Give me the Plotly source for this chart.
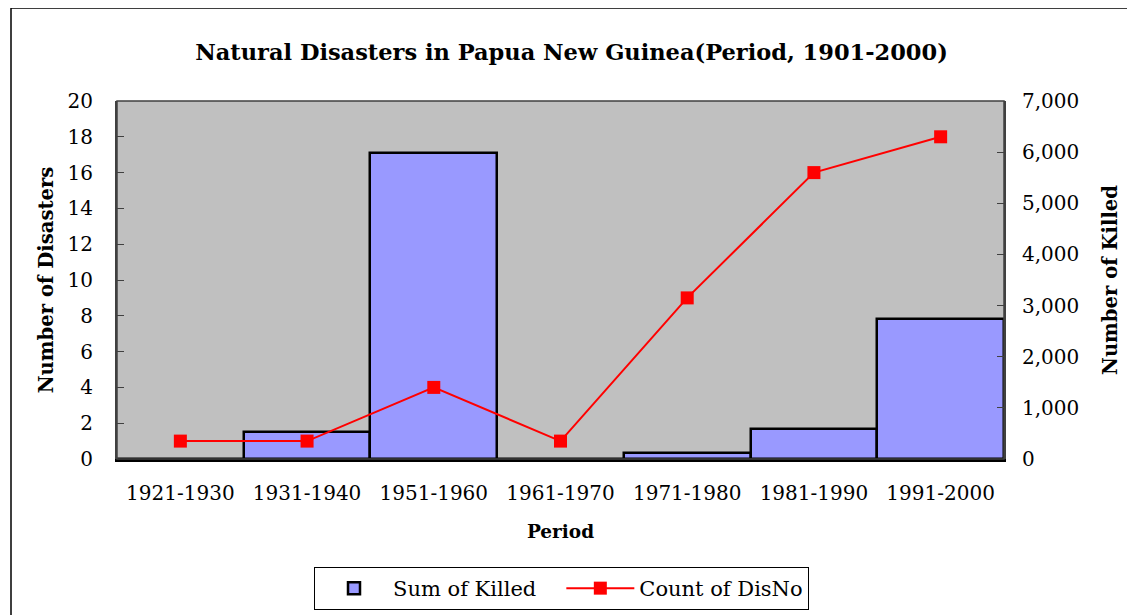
import plotly.graph_objects as go

periods = ["1921-1930", "1931-1940", "1951-1960", "1961-1970", "1971-1980", "1981-1990", "1991-2000"]
sum_killed = [0, 525, 5985, 0, 120, 590, 2730]
count_disno = [1, 1, 4, 1, 9, 16, 18]
killed_ticks = [0, 1000, 2000, 3000, 4000, 5000, 6000, 7000]
count_ticks = [0, 2, 4, 6, 8, 10, 12, 14, 16, 18, 20]

FONT = "DejaVu Serif"
OFF = 8  # page body margin
L, R, T, B = 117 - OFF, 1004 - OFF, 101 - OFF, 459 - OFF
W, H = 1135 - OFF, 615 - OFF

fig = go.Figure()
fig.add_trace(go.Bar(
    x=periods, y=sum_killed, name="Sum of Killed" + "\u00a0" * 3, yaxis="y",
    width=1, marker=dict(color="#9999FF", line=dict(color="black", width=2.5)),
))
fig.add_trace(go.Scatter(
    x=periods, y=count_disno, name="Count of DisNo", yaxis="y2",
    mode="lines+markers", line=dict(color="#FF0000", width=2),
    marker=dict(symbol="square", size=13, color="#FF0000"),
))

pw = R - L
ph = B - T
fig.update_layout(
    width=W, height=H,
    margin=dict(l=L, r=W - R, t=T, b=H - B),
    paper_bgcolor="white", plot_bgcolor="#C0C0C0",
    font=dict(family=FONT, size=20, color="black"),
    title=dict(text="<b>Natural Disasters in Papua New Guinea(Period, 1901-2000)</b>",
               x=0.5, xanchor="center", y=1 - (52 - OFF) / H, yanchor="middle",
               font=dict(family=FONT, size=22.5, color="black")),
    bargap=0,
    showlegend=True,
    legend=dict(orientation="h", x=(314 - OFF - L) / pw, xref="paper",
                y=1 - (567 - OFF) / H, yref="container",
                xanchor="left", yanchor="top", bordercolor="black", borderwidth=1,
                bgcolor="white", font=dict(family=FONT, size=21),
                itemwidth=68),
    xaxis=dict(type="category", showline=True, linecolor="black", linewidth=3,
               ticks="", showgrid=False, zeroline=False,
               ticklabelstandoff=14,
               title=dict(text="<b>Period</b>", font=dict(family=FONT, size=18.5), standoff=22),
               tickfont=dict(family=FONT, size=20),
               range=[-0.5, 6.5]),
    yaxis=dict(side="right", range=[0, 7000], tickvals=killed_ticks,
               tickformat=",d", showgrid=False, zeroline=False,
               showline=True, linecolor="#404040", linewidth=2,
               ticks="inside", ticklen=7, tickcolor="#404040",
               ticklabelstandoff=12,
               title=dict(text="<b>Number of Killed</b>", font=dict(family=FONT, size=19.6), standoff=25),
               tickfont=dict(family=FONT, size=20)),
    yaxis2=dict(side="left", overlaying="y", range=[0, 20], tickvals=count_ticks,
                showgrid=False, zeroline=False,
                showline=True, linecolor="#404040", linewidth=2,
                ticks="inside", ticklen=7, tickcolor="#404040",
                ticklabelstandoff=18,
                title=dict(text="<b>Number of Disasters</b>", font=dict(family=FONT, size=19.6), standoff=9),
                tickfont=dict(family=FONT, size=20)),
    shapes=[
        dict(type="rect", xref="paper", yref="paper",
             x0=0, x1=1, y0=0, y1=1,
             line=dict(color="#404040", width=1.5), fillcolor="rgba(0,0,0,0)", layer="above"),
        dict(type="rect", xref="paper", yref="paper",
             x0=(11 - OFF - L) / pw, x1=(1133 - OFF - L) / pw, y0=(B - 700) / ph, y1=(B - 0) / ph,
             line=dict(color="black", width=1.5), fillcolor="rgba(0,0,0,0)"),
    ],
)

fig.write_html("out.html")
